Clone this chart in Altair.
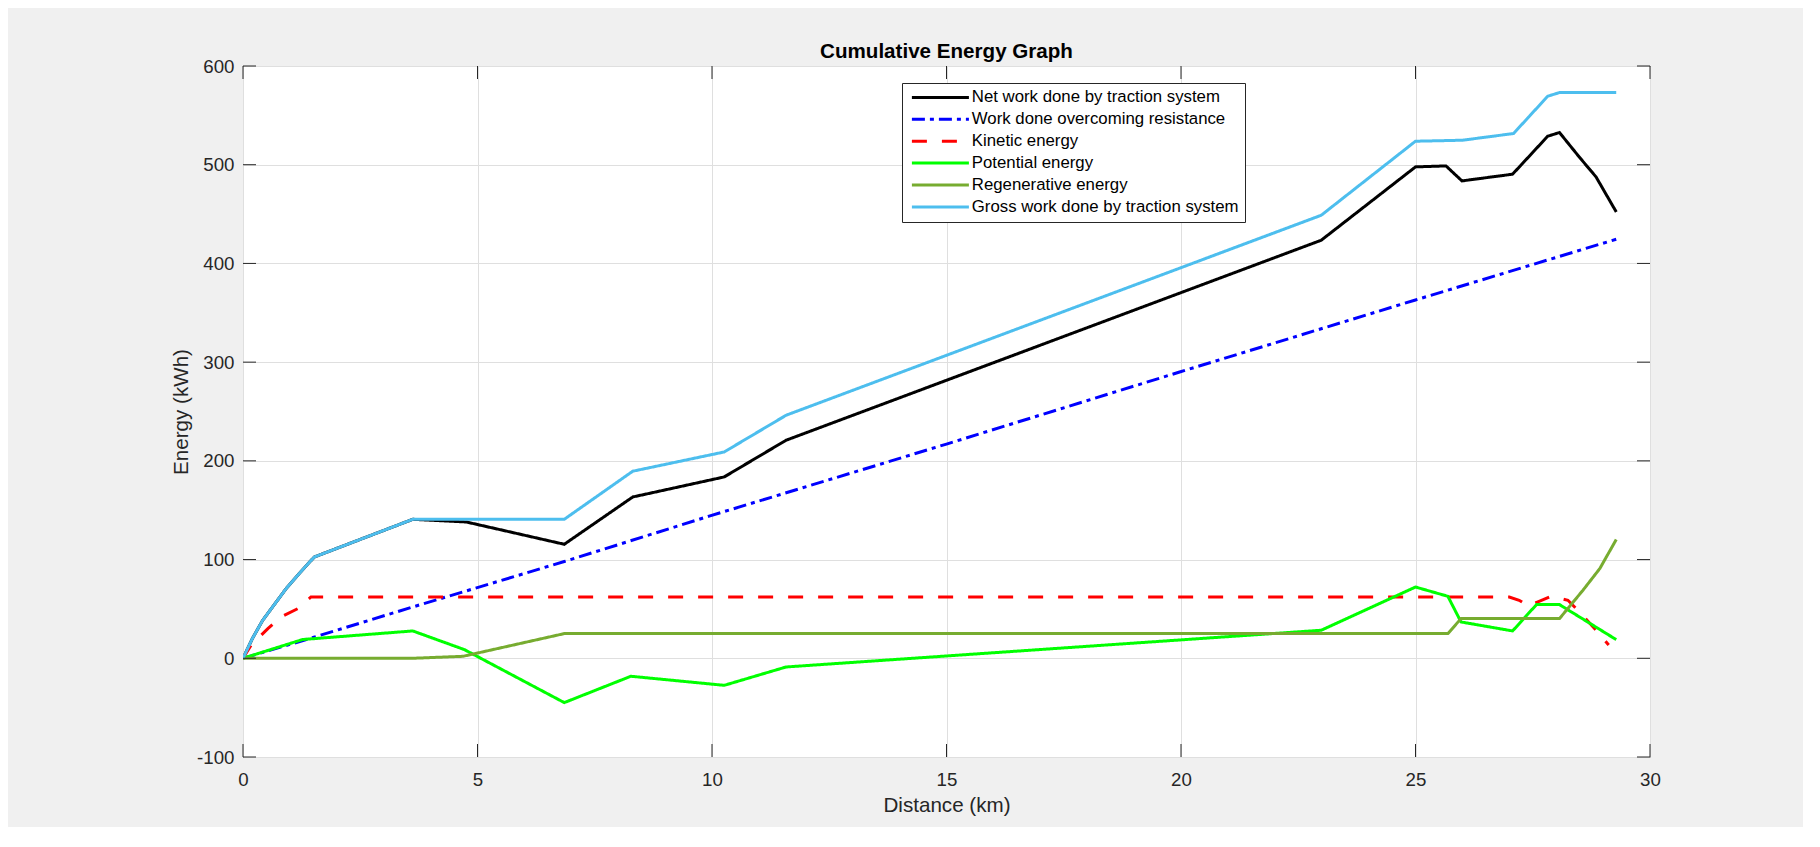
import altair as alt
import pandas as pd

SERIES = [
    "Net work done by traction system",
    "Work done overcoming resistance",
    "Kinetic energy",
    "Potential energy",
    "Regenerative energy",
    "Gross work done by traction system",
]
COLORS = ["#000000", "#0000FF", "#FF0000", "#00FF00", "#77AC30", "#4DBEEE"]
DASHES = [[1, 0], [13, 5, 4, 5], [15, 15], [1, 0], [1, 0], [1, 0]]

X_TICKS = [0, 5, 10, 15, 20, 25, 30]
Y_TICKS = [-100, 0, 100, 200, 300, 400, 500, 600]

net_km = [0, 0.2, 0.42, 0.92, 1.2, 1.52, 3.62, 4.76, 6.85, 8.31, 10.26, 11.58,
          22.99, 25.0, 25.65, 25.99, 27.07, 27.82, 28.07, 28.49, 28.85, 29.28]
net_kwh = [0, 20, 38.5, 70.6, 86, 102.6, 140.8, 138.1, 115.5, 163.4, 183.7, 220.9,
           423.5, 497.8, 498.8, 483.6, 490.4, 528.9, 532.6, 507.9, 487.6, 452.2]

res_km = [0, 1.35, 3.62, 6.85, 9.94, 15.0, 19.97, 25.0, 29.28]
res_kwh = [0, 19, 52, 98, 144, 217, 290, 363, 424.5]

kin_km = [0, 0.17, 0.53, 0.81, 1.17, 1.45, 27.0, 27.21, 27.4, 27.61, 27.89,
          28.25, 28.53, 28.85, 29.12]
kin_kwh = [0, 13, 30.1, 41.8, 50.3, 62.1, 62.1, 58.8, 53, 57.1, 62.8,
           58.8, 45.3, 28.4, 13.5]

pot_km = [0, 1.27, 3.62, 4.72, 6.85, 8.27, 10.26, 11.58, 22.99, 25.0, 25.69,
          25.97, 27.07, 27.58, 28.07, 29.28]
pot_kwh = [0, 19, 27.7, 8.8, -44.9, -18.2, -27.4, -8.8, 28.4, 72.2, 62.8,
           36.8, 27.7, 54.4, 54.4, 18.9]

reg_km = [0, 3.62, 4.69, 6.85, 25.69, 25.97, 28.07, 28.57, 28.93, 29.28]
reg_kwh = [0, 0, 2, 25, 25, 40.2, 40.2, 68.9, 90.9, 120.3]

gross_km = [0, 0.2, 0.42, 0.92, 1.2, 1.52, 3.62, 6.85, 8.31, 10.26, 11.58,
            22.99, 25.0, 26.0, 27.09, 27.82, 28.07, 29.28]
gross_kwh = [0, 20, 38.5, 70.6, 86, 102.6, 140.8, 140.8, 189.5, 209.0, 246.2,
             448.8, 523.8, 524.8, 531.6, 569.4, 573.1, 573.1]

SERIES_X = [net_km, res_km, kin_km, pot_km, reg_km, gross_km]
SERIES_Y = [net_kwh, res_kwh, kin_kwh, pot_kwh, reg_kwh, gross_kwh]

rows = []
for name, xs, ys in zip(SERIES, SERIES_X, SERIES_Y):
    for i, (xv, yv) in enumerate(zip(xs, ys)):
        rows.append({"series": name, "km": xv, "kwh": yv, "i": i})
df = pd.DataFrame(rows)

W, H = 1407, 691
FONT = "Liberation Sans"
AXC = "#262626"

x_scale = alt.Scale(domain=[0, 30], nice=False, zero=False)
y_scale = alt.Scale(domain=[-100, 600], nice=False, zero=False)

x_axis = alt.Axis(values=X_TICKS, title="Distance (km)", grid=True, gridColor="#dfdfdf",
                  domain=False, ticks=False, tickSize=0, labelPadding=13, titlePadding=7,
                  labelFlush=False, labelExpr="'' + datum.value")
y_axis = alt.Axis(values=Y_TICKS, title="Energy (kWh)", grid=True, gridColor="#dfdfdf",
                  domain=False, ticks=False, tickSize=0, labelPadding=9, titlePadding=5,
                  labelExpr="'' + datum.value")

legend = alt.Legend(
    orient="none", legendX=659, legendY=17, title=None,
    symbolType="M-10,0H10", symbolSize=32.5, symbolStrokeWidth=3,
    symbolOffset=24, labelOffset=23,
    labelFont=FONT, labelFontSize=16.8, labelColor="#000000", labelLimit=500,
    rowPadding=3.9, padding=6, fillColor="#ffffff", strokeColor=AXC,
)

color = alt.Color("series:N", scale=alt.Scale(domain=SERIES, range=COLORS), legend=legend)
dash = alt.StrokeDash("series:N", scale=alt.Scale(domain=SERIES, range=DASHES), legend=legend)

X = alt.X("km:Q", scale=x_scale, axis=x_axis)
Y = alt.Y("kwh:Q", scale=y_scale, axis=y_axis)

layers = []
for s in SERIES:
    layers.append(
        alt.Chart(df)
        .transform_filter(alt.datum.series == s)
        .mark_line(strokeWidth=3, clip=True)
        .encode(x=X, y=Y, color=color, strokeDash=dash, order="i:Q")
    )

xt = pd.DataFrame({"km": X_TICKS})
yt = pd.DataFrame({"kwh": Y_TICKS})
TL = 13
ticks = [
    alt.Chart(yt).mark_rule(color=AXC, strokeWidth=1).encode(y=Y, x=alt.value(0), x2=alt.value(TL)),
    alt.Chart(yt).mark_rule(color=AXC, strokeWidth=1).encode(y=Y, x=alt.value(W - TL), x2=alt.value(W)),
    alt.Chart(xt).mark_rule(color=AXC, strokeWidth=1).encode(x=X, y=alt.value(H - TL), y2=alt.value(H)),
    alt.Chart(xt).mark_rule(color=AXC, strokeWidth=1).encode(x=X, y=alt.value(0), y2=alt.value(TL)),
]

chart = (
    alt.layer(*layers, *ticks)
    .properties(
        width=W, height=H,
        title=alt.TitleParams(text="Cumulative Energy Graph", font=FONT, fontSize=20.6,
                              fontWeight="bold", color="#000000", anchor="middle",
                              frame="group", offset=-6),
        background="#f0f0f0",
        padding={"left": 235, "top": 58, "right": 153, "bottom": 70},
        autosize=alt.AutoSizeParams(type="none"),
    )
    .configure_view(fill="#ffffff", stroke=AXC, strokeWidth=1)
    .configure_axis(labelFont=FONT, titleFont=FONT, labelFontSize=18.7, titleFontSize=20.6,
                    labelColor=AXC, titleColor=AXC, titleFontWeight="normal")
)

chart.save("out.html", embed_options={"renderer": "svg", "actions": False})
